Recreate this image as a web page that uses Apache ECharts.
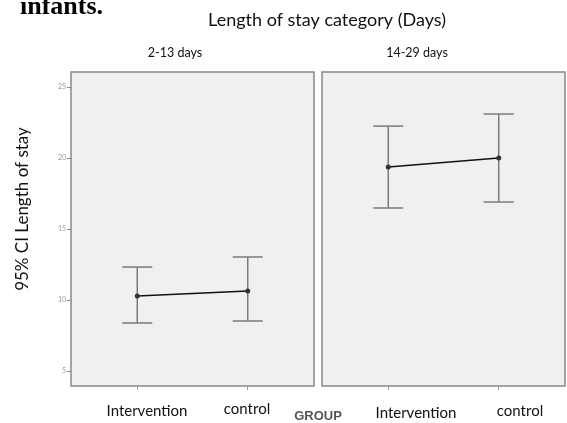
<!DOCTYPE html>
<html>
<head>
<meta charset="utf-8">
<script src="https://cdn.jsdelivr.net/npm/echarts@6/dist/echarts.min.js"></script>
<style>html,body{margin:0;padding:0;background:#fff;}#c{width:567px;height:423px;}</style>
</head>
<body>
<div id="c"></div>
<script>
const categories = ['Intervention', 'control'];
const panelLabels = ['2-13 days', '14-29 days'];
const yTicks = [5, 10, 15, 20, 25];
const leftMean = [10.28, 10.63];
const leftLow = [8.38, 8.52];
const leftHigh = [12.32, 13.03];
const rightMean = [19.37, 20.0];
const rightLow = [16.48, 16.9];
const rightHigh = [22.25, 23.1];

const chart = echarts.init(document.getElementById('c'), null, {renderer: 'canvas'});
const FONT = 'Lato, "Open Sans", sans-serif';

function errItem(params, api) {
  const x = api.value(0);
  const top = api.coord([x, api.value(2)]);
  const bot = api.coord([x, api.value(1)]);
  const hw = 15;
  const st = {stroke: '#7a7a7a', lineWidth: 1.5};
  return {
    type: 'group',
    children: [
      {type: 'line', shape: {x1: top[0], y1: top[1], x2: bot[0], y2: bot[1]}, style: st},
      {type: 'line', shape: {x1: top[0] - hw, y1: top[1], x2: top[0] + hw, y2: top[1]}, style: st},
      {type: 'line', shape: {x1: bot[0] - hw, y1: bot[1], x2: bot[0] + hw, y2: bot[1]}, style: st}
    ]
  };
}

function xAxis(idx) {
  return {
    type: 'value', gridIndex: idx, min: -0.6, max: 1.6,
    splitLine: {show: false},
    axisLine: {show: false, onZero: false},
    axisTick: {show: true, customValues: [0, 1], length: 4, lineStyle: {color: '#999', width: 1}},
    axisLabel: {show: false, customValues: [0, 1]}
  };
}
function yAxis(idx, showLabels) {
  return {
    type: 'value', gridIndex: idx, min: 3.94, max: 26.06,
    splitLine: {show: false},
    axisLine: {show: false, onZero: false},
    axisTick: {show: showLabels, customValues: yTicks, length: 4, lineStyle: {color: '#888', width: 1}},
    axisLabel: {show: showLabels, customValues: yTicks, fontSize: 7, color: '#999', margin: 5, fontFamily: FONT}
  };
}

const gridStyle = {show: true, backgroundColor: '#f0f0f0', borderColor: '#888', borderWidth: 1.5};

const option = {
  animation: false,
  backgroundColor: '#fff',
  grid: [
    Object.assign({left: 71, top: 72, width: 243, height: 314}, gridStyle),
    Object.assign({left: 322, top: 72, width: 243, height: 314}, gridStyle)
  ],
  xAxis: [xAxis(0), xAxis(1)],
  yAxis: [yAxis(0, true), yAxis(1, false)],
  series: [
    {type: 'custom', xAxisIndex: 0, yAxisIndex: 0, renderItem: errItem,
     data: categories.map((c, i) => [i, leftLow[i], leftHigh[i]]), z: 2},
    {type: 'custom', xAxisIndex: 1, yAxisIndex: 1, renderItem: errItem,
     data: categories.map((c, i) => [i, rightLow[i], rightHigh[i]]), z: 2},
    {type: 'line', xAxisIndex: 0, yAxisIndex: 0, symbol: 'circle', symbolSize: 5,
     lineStyle: {color: '#111', width: 1.5}, itemStyle: {color: '#333'},
     data: categories.map((c, i) => [i, leftMean[i]]), z: 3},
    {type: 'line', xAxisIndex: 1, yAxisIndex: 1, symbol: 'circle', symbolSize: 5,
     lineStyle: {color: '#111', width: 1.5}, itemStyle: {color: '#333'},
     data: categories.map((c, i) => [i, rightMean[i]]), z: 3}
  ],
  graphic: [
    {type: 'text', x: 20, y: 20, style: {text: 'infants.', font: 'bold 26px "Liberation Serif", serif', fill: '#000', verticalAlign: 'bottom'}},
    {type: 'text', x: 327, y: 20, style: {text: 'Length of stay category (Days)', font: '18px ' + FONT, fill: '#111', align: 'center', verticalAlign: 'middle'}},
    {type: 'text', x: 175, y: 53, style: {text: panelLabels[0], font: '12.5px ' + FONT, fill: '#111', align: 'center', verticalAlign: 'middle'}},
    {type: 'text', x: 417, y: 53, style: {text: panelLabels[1], font: '12.5px ' + FONT, fill: '#111', align: 'center', verticalAlign: 'middle'}},
    {type: 'text', x: 23, y: 209, rotation: Math.PI / 2, style: {text: '95% CI Length of stay', font: '17px ' + FONT, fill: '#111', align: 'center', verticalAlign: 'middle'}},
    {type: 'text', x: 147, y: 411, style: {text: categories[0], font: '15px ' + FONT, fill: '#111', align: 'center', verticalAlign: 'middle'}},
    {type: 'text', x: 247, y: 409, style: {text: categories[1], font: '15px ' + FONT, fill: '#111', align: 'center', verticalAlign: 'middle'}},
    {type: 'text', x: 416, y: 413, style: {text: categories[0], font: '15px ' + FONT, fill: '#111', align: 'center', verticalAlign: 'middle'}},
    {type: 'text', x: 520, y: 411, style: {text: categories[1], font: '15px ' + FONT, fill: '#111', align: 'center', verticalAlign: 'middle'}},
    {type: 'text', x: 318, y: 416, style: {text: 'GROUP', font: 'bold 13px "Liberation Sans", sans-serif', fill: '#555', align: 'center', verticalAlign: 'middle'}}
  ]
};
chart.setOption(option);
</script>
</body>
</html>
